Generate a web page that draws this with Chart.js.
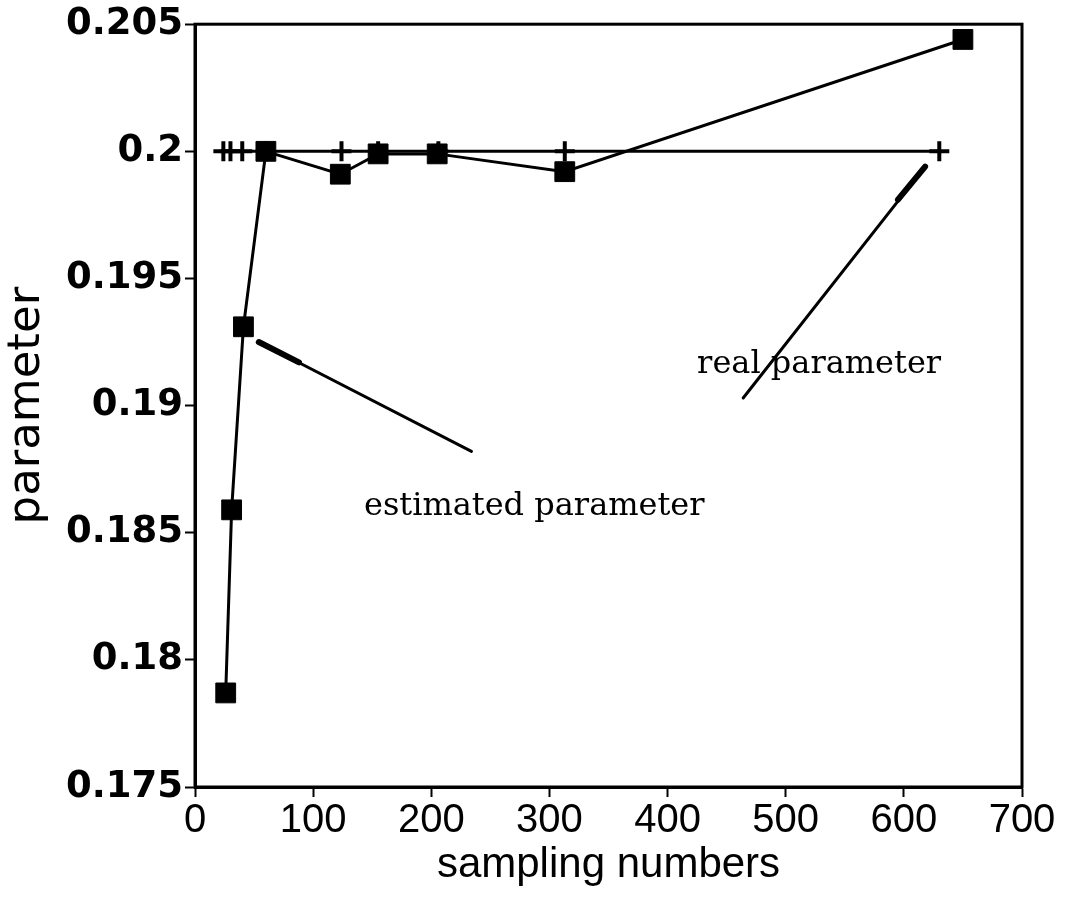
<!DOCTYPE html>
<html>
<head>
<meta charset="utf-8">
<script src="https://cdn.jsdelivr.net/npm/chart.js@4/dist/chart.umd.min.js"></script>
<style>
  html, body { margin: 0; padding: 0; background: #fff; }
  #wrap { width: 1075px; height: 903px; }
</style>
</head>
<body>
<div id="wrap"><canvas id="chartParam"></canvas></div>
<script>
// estimated parameter (filled squares)
const estX = [26, 31, 41, 60, 123, 155, 205, 313, 650];
const estY = [0.1787, 0.1859, 0.1931, 0.2000, 0.1991, 0.1999, 0.1999, 0.1992, 0.2044];

// real parameter (crosses)
const realX = [24, 30, 40, 60, 124, 155, 206, 313, 630];
const realY = [0.2, 0.2, 0.2, 0.2, 0.2, 0.2, 0.2, 0.2, 0.2];

// axis ranges / tick steps
const xRange = [0, 700, 100];
const yRange = [0.175, 0.205, 0.005];

// labels with leader lines, in data units (thick = heavier stub at one end)
const notes = [
  { text: 'estimated parameter', at: [143, 0.1857], from: [54, 0.1925], to: [234, 0.1882], thick: [54, 0.1925, 88, 0.1917] },
  { text: 'real parameter', at: [425, 0.1913], from: [464, 0.1903], to: [618, 0.1994], thick: [595, 0.1981, 618, 0.1994] }
];

const toPoints = (xs, ys) => xs.map((x, i) => ({ x: x, y: ys[i] }));

/**
 * Frame around the plot plus the annotation texts
 */
const frameAndNotes = {
  id: 'frameAndNotes',
  afterDatasetsDraw(chart) {
    const { ctx, chartArea: a, scales } = chart;
    const px = v => scales.x.getPixelForValue(v);
    const py = v => scales.y.getPixelForValue(v);

    ctx.save();
    ctx.strokeStyle = '#000';
    ctx.lineWidth = 3;
    ctx.strokeRect(a.left, a.top, a.right - a.left, a.bottom - a.top);

    ctx.lineCap = 'round';
    notes.forEach(n => {
      ctx.lineWidth = 3;
      ctx.beginPath();
      ctx.moveTo(px(n.from[0]), py(n.from[1]));
      ctx.lineTo(px(n.to[0]), py(n.to[1]));
      ctx.stroke();

      ctx.lineWidth = 6;
      ctx.beginPath();
      ctx.moveTo(px(n.thick[0]), py(n.thick[1]));
      ctx.lineTo(px(n.thick[2]), py(n.thick[3]));
      ctx.stroke();

      ctx.font = '32px "DejaVu Serif"';
      ctx.fillStyle = '#000';
      ctx.textAlign = 'left';
      ctx.textBaseline = 'alphabetic';
      ctx.fillText(n.text, px(n.at[0]), py(n.at[1]));
    });
    ctx.restore();
  }
};

const ctx = document.getElementById('chartParam').getContext('2d');

new Chart(ctx, {
  type: 'scatter',
  data: {
    datasets: [
      {
        label: 'real parameter',
        data: toPoints(realX, realY),
        showLine: true,
        borderColor: '#000',
        borderWidth: 3,
        pointStyle: 'cross',
        pointRadius: 10,
        pointBorderWidth: 4,
        pointBorderColor: '#000',
        order: 2
      },
      {
        label: 'estimated parameter',
        data: toPoints(estX, estY),
        showLine: true,
        borderColor: '#000',
        borderWidth: 3,
        pointStyle: 'rect',
        pointRadius: 14,
        pointBackgroundColor: '#000',
        pointBorderColor: '#000',
        pointBorderWidth: 1,
        order: 1
      }
    ]
  },
  options: {
    responsive: true,
    maintainAspectRatio: false,
    animation: false,
    layout: { padding: { top: 18, right: 53, left: 0, bottom: 0 } },
    plugins: {
      legend: { display: false },
      tooltip: { enabled: false }
    },
    scales: {
      x: {
        type: 'linear',
        min: xRange[0],
        max: xRange[1],
        afterFit: s => { s.height = 116; },
        ticks: {
          stepSize: xRange[2],
          color: '#000',
          padding: 0,
          maxRotation: 0,
          font: { family: '"Liberation Sans"', size: 40 }
        },
        grid: { drawOnChartArea: false, tickLength: 10, tickColor: '#000', tickWidth: 2 },
        border: { display: true, color: '#000', width: 3 },
        title: {
          display: true,
          text: 'sampling numbers',
          color: '#000',
          padding: { top: 0, bottom: 12 },
          font: { family: '"Liberation Sans"', size: 42 }
        }
      },
      y: {
        type: 'linear',
        min: yRange[0],
        max: yRange[1],
        afterFit: s => { s.width = 195; },
        ticks: {
          stepSize: yRange[2],
          color: '#000',
          padding: 2,
          font: { family: '"DejaVu Sans"', size: 37, weight: 'bold' },
          callback: v => String(+v.toFixed(3))
        },
        grid: { drawOnChartArea: false, tickLength: 10, tickColor: '#000', tickWidth: 2 },
        border: { display: true, color: '#000', width: 3 },
        title: {
          display: true,
          text: 'parameter',
          color: '#000',
          padding: { top: 0, bottom: 2 },
          font: { family: '"DejaVu Sans"', size: 45 }
        }
      }
    }
  },
  plugins: [frameAndNotes]
});
</script>
</body>
</html>
